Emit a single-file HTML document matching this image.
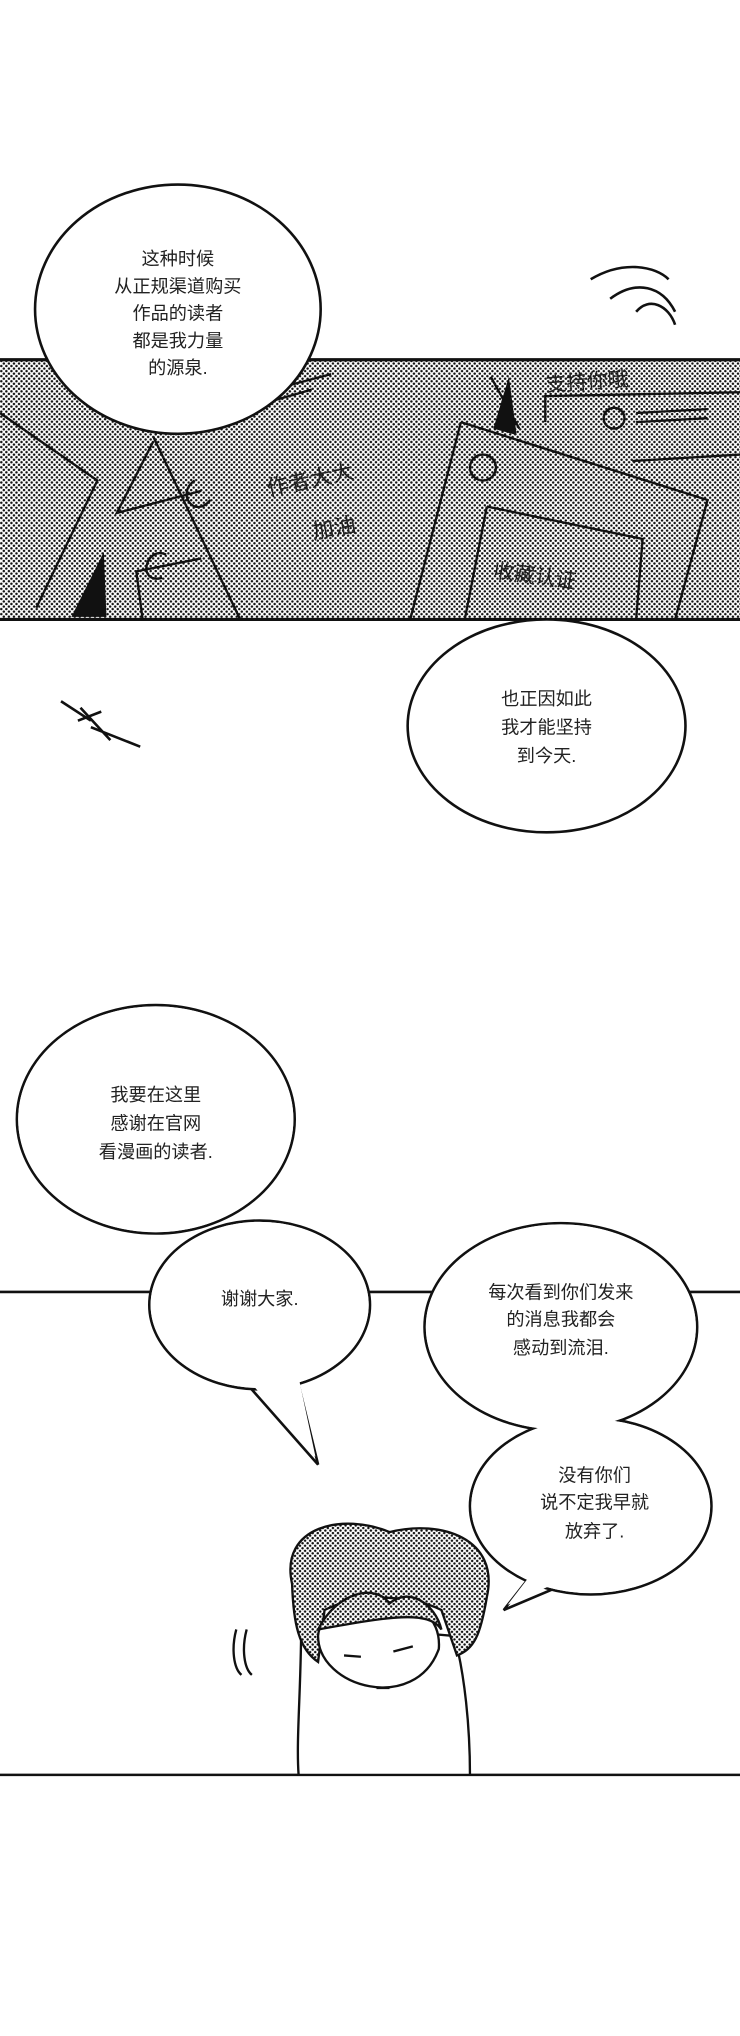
<!DOCTYPE html>
<html><head><meta charset="utf-8"><style>
html,body{margin:0;padding:0;background:#fff}
svg{display:block}
text{font-family:"Liberation Sans","Noto Sans CJK SC",sans-serif;fill:#222}
</style></head><body>
<svg width="740" height="2036" viewBox="0 0 570 1568" xmlns="http://www.w3.org/2000/svg">
<defs>
<pattern id="dots" width="3.9" height="3.9" patternUnits="userSpaceOnUse">
<rect width="3.9" height="3.9" fill="#fff"/>
<circle cx="1" cy="1" r="0.95" fill="#111"/>
<circle cx="2.95" cy="2.95" r="0.95" fill="#111"/>
</pattern>
</defs>
<rect width="570" height="1568" fill="#fff"/>
<!-- halftone panel -->
<rect x="0" y="277" width="570" height="200" fill="url(#dots)"/>
<line x1="0" y1="277" x2="570" y2="277" stroke="#111" stroke-width="2.5"/>
<line x1="0" y1="477" x2="570" y2="477" stroke="#111" stroke-width="2.5"/>
<g fill="none" stroke="#111" stroke-width="1.8">
<path d="M0 318 L75 370 L28 468"/>
<path d="M118 336 L185 477"/>
<path d="M118 340 L90 395 L155 378"/>
<path d="M155 430 L105 440 L110 478"/>
<path d="M150 370 C135 380 150 400 162 385"/>
<path d="M128 427 C112 420 105 450 125 445"/>
<path d="M355 325 L545 385 L520 477"/>
<path d="M355 325 L316 477"/>
<path d="M375 390 L495 415 L490 477"/>
<path d="M375 390 L358 477"/>
<circle cx="372" cy="360" r="10"/>
<path d="M378 290 L400 330"/>
<path d="M420 325 L420 305 L570 302"/>
<circle cx="473" cy="322" r="8"/>
<path d="M490 318 L545 315 M490 325 L545 322"/>
<path d="M487 355 L570 350"/>
<path d="M210 300 L255 288 M205 310 L240 300"/>
</g>
<path d="M55 475 L80 425 L82 475Z" fill="#111"/>
<path d="M380 330 L392 290 L398 335Z" fill="#111"/>
<text x="205" y="375" font-size="17" transform="rotate(-12 240 370)">作者大大</text>
<text x="240" y="412" font-size="17" transform="rotate(-10 260 405)">加油</text>
<text x="380" y="450" font-size="16" transform="rotate(8 420 445)">收藏认证</text>
<text x="420" y="298" font-size="16" transform="rotate(-4 470 290)">支持你哦</text>
<g fill="none" stroke="#111" stroke-width="2">
<path d="M455 215 C480 200 505 205 515 215"/>
<path d="M470 230 C490 215 510 220 520 240"/>
<path d="M490 240 C500 228 515 235 520 250"/>
<path d="M47 540 L70 555 M60 555 L78 548 M70 560 L108 575 M62 545 L85 570"/>
</g>
<!-- bubble 1 -->
<ellipse cx="137" cy="238" rx="110" ry="96" fill="#fff" stroke="#111" stroke-width="2"/>
<g font-size="14" text-anchor="middle">
<text x="137" y="204">这种时候</text>
<text x="137" y="225">从正规渠道购买</text>
<text x="137" y="246">作品的读者</text>
<text x="137" y="267">都是我力量</text>
<text x="137" y="288">的源泉.</text>
</g>
<!-- bubble 2 -->
<ellipse cx="421" cy="559" rx="107" ry="82" fill="#fff" stroke="#111" stroke-width="2"/>
<g font-size="14" text-anchor="middle">
<text x="421" y="543">也正因如此</text>
<text x="421" y="565">我才能坚持</text>
<text x="421" y="587">到今天.</text>
</g>
<line x1="0" y1="995" x2="570" y2="995" stroke="#111" stroke-width="2"/>
<line x1="0" y1="1367" x2="570" y2="1367" stroke="#111" stroke-width="2"/>
<!-- character -->
<g stroke="#111" stroke-width="1.8">
<path d="M232 1250 C232 1300 228 1340 230 1367 L362 1367 C362 1330 358 1290 350 1260 Z" fill="#fff"/>
<path d="M225 1220 C215 1175 265 1165 300 1180 C340 1170 385 1185 375 1230 C370 1260 365 1270 352 1275 L340 1240 C320 1230 280 1225 250 1240 L245 1280 C230 1270 226 1250 225 1220Z" fill="url(#dots)"/>
<path d="M245 1260 C245 1300 320 1320 338 1270 C340 1245 320 1230 290 1235 C260 1238 246 1245 245 1260Z" fill="#fff"/>
<path d="M245 1255 C260 1225 290 1220 300 1235 C315 1222 335 1235 340 1255 C330 1240 300 1245 245 1255Z" fill="url(#dots)"/>
<path d="M265 1275 L278 1276 M303 1272 L318 1268 M290 1300 L300 1300" fill="none"/>
<path d="M182 1255 C178 1270 180 1285 186 1290 M190 1255 C186 1270 188 1285 194 1290" fill="none"/>
</g>
<!-- bubble 3 merged -->
<g fill="#fff" stroke="#111" stroke-width="2">
<path d="M185 1060 L245 1128 L228 1058Z"/>
<ellipse cx="200" cy="1005" rx="85" ry="65"/>
<ellipse cx="120" cy="862" rx="107" ry="88"/>
</g>
<g fill="#fff">
<path d="M187 1058 L243 1122 L229 1056Z"/>
<ellipse cx="200" cy="1005" rx="84" ry="64"/>
<ellipse cx="120" cy="862" rx="106" ry="87"/>
</g>
<g font-size="14" text-anchor="middle">
<text x="120" y="848">我要在这里</text>
<text x="120" y="870">感谢在官网</text>
<text x="120" y="892">看漫画的读者.</text>
<text x="200" y="1005">谢谢大家.</text>
</g>
<!-- bubble 4/5 merged -->
<g fill="#fff" stroke="#111" stroke-width="2">
<path d="M410 1212 L388 1240 L440 1218Z"/>
<ellipse cx="432" cy="1022" rx="105" ry="80"/>
<ellipse cx="455" cy="1160" rx="93" ry="68"/>
</g>
<g fill="#fff">
<path d="M411 1210 L391 1236 L438 1215Z"/>
<ellipse cx="432" cy="1022" rx="104" ry="79"/>
<ellipse cx="455" cy="1160" rx="92" ry="67"/>
</g>
<g font-size="14" text-anchor="middle">
<text x="432" y="1000">每次看到你们发来</text>
<text x="432" y="1021">的消息我都会</text>
<text x="432" y="1043">感动到流泪.</text>
<text x="458" y="1141">没有你们</text>
<text x="458" y="1162">说不定我早就</text>
<text x="458" y="1184">放弃了.</text>
</g>
</svg>
</body></html>
